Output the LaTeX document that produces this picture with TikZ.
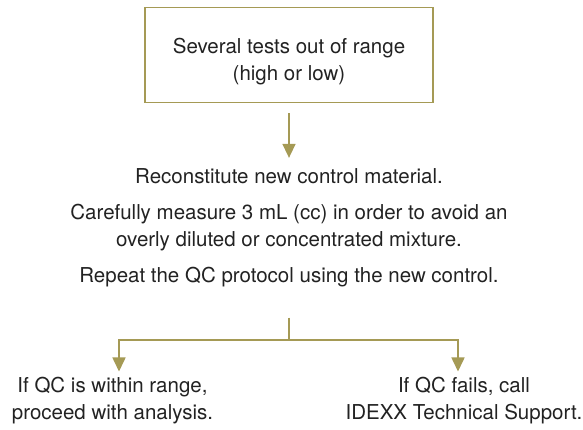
\documentclass[tikz,border=0pt]{standalone}
\usepackage{fontspec}
\setmainfont{TeX Gyre Heros}
\usetikzlibrary{arrows.meta}

\definecolor{qcolive}{HTML}{A59A55}
\definecolor{qcink}{HTML}{222222}

\tikzset{
	qctext/.style={font=\fontsize{20.5}{27}\selectfont, text=qcink, align=center, inner sep=0pt},
	qcbox/.style={qctext, draw=qcolive, line width=1.3pt, minimum width=288pt},
	qcline/.style={draw=qcolive, line width=1.6pt},
	qcflow/.style={qcline, -{Triangle[length=14pt, width=13pt]}}
}

\begin{document}
\begin{tikzpicture}[x=1pt, y=-1pt]
	\useasboundingbox (0,0) rectangle (583,429);

	% starting condition
	\node[qcbox, text height=73pt, text depth=22pt, anchor=north] (range) at (289,7)
		{Several tests out of range\\(high or low)};

	% steps (base = last line)
	\node[qctext, anchor=base] (recon) at (289,183) {Reconstitute new control material.};
	\node[qctext, anchor=base] (measure) at (289,246) {Carefully measure 3 mL (cc) in order to avoid an\\overly diluted or concentrated mixture.};
	\node[qctext, anchor=base] (repeat) at (289,282) {Repeat the QC protocol using the new control.};

	% outcomes
	\node[qctext, anchor=base] (pass) at (112.5,419) {If QC is within range,\\proceed with analysis.};
	\node[qctext, anchor=base] (fail) at (464,419) {If QC fails, call\\IDEXX Technical Support.};

	\coordinate (split) at (289,340);

	\draw[qcflow, shorten <=10pt, shorten >=10pt] (range) -- (recon);
	\draw[qcline, shorten <=31pt] (repeat) -- (split);
	\draw[qcflow, shorten >=5pt] (split) -| ([xshift=6.5pt]pass.north);
	\draw[qcflow, shorten >=5pt] (split) -| ([xshift=-6pt]fail.north);
\end{tikzpicture}
\end{document}
